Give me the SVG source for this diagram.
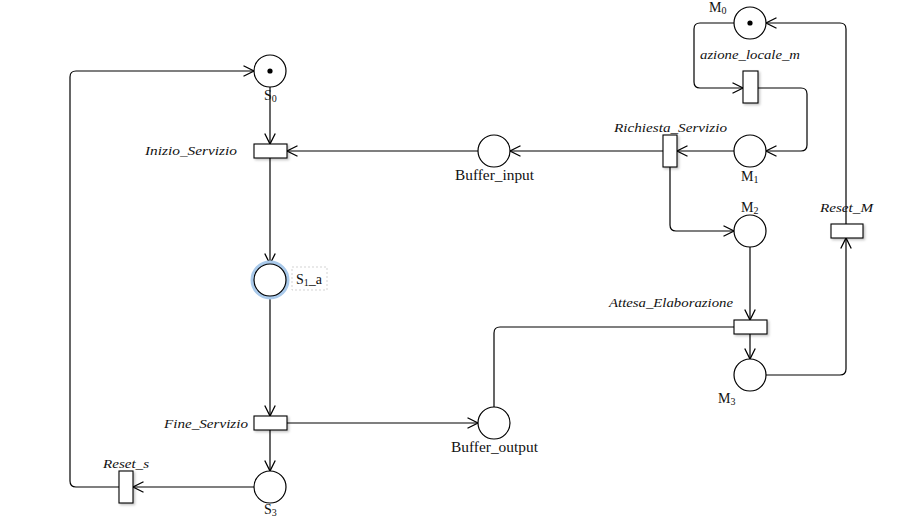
<svg xmlns="http://www.w3.org/2000/svg" width="905" height="519" viewBox="0 0 905 519">
<style>
.bg{fill:#ffffff}
.pl{fill:#ffffff;stroke:#000;stroke-width:1.2}
.tr{fill:#ffffff;stroke:#000;stroke-width:1.1;filter:url(#sh)}
.tok{fill:#000}
.arc{fill:none;stroke:#000;stroke-width:1.2;marker-end:url(#ah)}
.arcn{fill:none;stroke:#000;stroke-width:1.2}
.pt{font-family:"Liberation Serif","DejaVu Serif",serif;font-size:14px;fill:#111}
.tt{font-family:"Liberation Serif","DejaVu Serif",serif;font-size:12px;font-style:italic;fill:#111}
.sub{font-size:10px}
</style>
<defs>
<marker id="ah" markerUnits="userSpaceOnUse" markerWidth="14" markerHeight="12" refX="10" refY="5" orient="auto" viewBox="0 0 12 10">
<path d="M1,0.5 L10,5 L1,9.5" fill="none" stroke="#000" stroke-width="1.1"/>
</marker>
<filter id="sh" x="-30%" y="-30%" width="160%" height="160%">
<feDropShadow dx="1.5" dy="1.5" stdDeviation="1" flood-color="#000" flood-opacity="0.25"/>
</filter>
</defs>
<rect class="bg" x="0" y="0" width="905" height="519"/>

<g id="connectors">
<path class="arc" d="M734,23 H700 Q694,23 694,29 V82 Q694,88 700,88 H743"/>
<path class="arc" d="M758,88 H801 Q807,88 807,94 V145 Q807,151 801,151 H766"/>
<path class="arc" d="M734,151 H677"/>
<path class="arc" d="M663,151 H510"/>
<path class="arc" d="M478,151 H287"/>
<path class="arc" d="M670,167 V225 Q670,231 676,231 H734"/>
<path class="arc" d="M270,87 V144"/>
<path class="arc" d="M270,158 V264"/>
<path class="arc" d="M270,296 V416"/>
<path class="arc" d="M270,430 V471"/>
<path class="arc" d="M287,423 H478"/>
<path class="arc" d="M254,487 H133"/>
<path class="arc" d="M119,487 H76 Q70,487 70,481 V77 Q70,71 76,71 H254"/>
<path class="arcn" d="M494,407 V333 Q494,327 500,327 H734"/>
<path class="arc" d="M750,247 V320"/>
<path class="arc" d="M750,334 V359"/>
<path class="arc" d="M766,375 H840 Q846,375 846,369 V238"/>
<path class="arc" d="M846,224 V29 Q846,23 840,23 H766"/>
</g>

<g id="M0">
<circle class="pl" cx="750" cy="23" r="16"/>
<circle class="tok" cx="750" cy="23" r="2.6"/>
<text class="pt" x="709" y="12">M<tspan class="sub" dy="2">0</tspan></text>
</g>
<g id="M1">
<circle class="pl" cx="750" cy="151" r="16"/>
<text class="pt" x="741" y="181">M<tspan class="sub" dy="2">1</tspan></text>
</g>
<g id="M2">
<circle class="pl" cx="750" cy="231" r="16"/>
<text class="pt" x="741" y="212">M<tspan class="sub" dy="2">2</tspan></text>
</g>
<g id="M3">
<circle class="pl" cx="750" cy="375" r="16"/>
<text class="pt" x="718" y="403">M<tspan class="sub" dy="2">3</tspan></text>
</g>
<g id="Buffer_input">
<circle class="pl" cx="494" cy="151" r="16"/>
<text class="pt" x="455" y="180" textLength="79" lengthAdjust="spacingAndGlyphs">Buffer_input</text>
</g>
<g id="Buffer_output">
<circle class="pl" cx="494" cy="423" r="16"/>
<text class="pt" x="451" y="452" textLength="87" lengthAdjust="spacingAndGlyphs">Buffer_output</text>
</g>
<g id="S0">
<circle class="pl" cx="270" cy="71" r="16"/>
<circle class="tok" cx="270" cy="71" r="2.6"/>
<text class="pt" x="264" y="100">S<tspan class="sub" dy="2">0</tspan></text>
</g>
<g id="S1_a">
<circle cx="270" cy="280" r="17" fill="none" stroke="#a9c9ea" stroke-width="5"/>
<circle class="pl" cx="270" cy="280" r="16"/>
<rect x="292" y="267" width="35" height="23" fill="#ffffff" stroke="#c8c8c8" stroke-width="0.8" stroke-dasharray="2,2"/>
<text class="pt" x="296" y="284">S<tspan class="sub" dy="2">1</tspan><tspan dy="-2">_a</tspan></text>
</g>
<g id="S3">
<circle class="pl" cx="270" cy="487" r="16"/>
<text class="pt" x="264" y="514">S<tspan class="sub" dy="2">3</tspan></text>
</g>

<g id="azione_locale_m">
<rect class="tr" x="743" y="71" width="15" height="32"/>
<text class="tt" x="700" y="59" textLength="100" lengthAdjust="spacingAndGlyphs">azione_locale_m</text>
</g>
<g id="Richiesta_Servizio">
<rect class="tr" x="663" y="135" width="14" height="32"/>
<text class="tt" x="614" y="132" textLength="113" lengthAdjust="spacingAndGlyphs">Richiesta_Servizio</text>
</g>
<g id="Inizio_Servizio">
<rect class="tr" x="254" y="144" width="33" height="14"/>
<text class="tt" x="145" y="155" textLength="92" lengthAdjust="spacingAndGlyphs">Inizio_Servizio</text>
</g>
<g id="Fine_Servizio">
<rect class="tr" x="254" y="416" width="33" height="14"/>
<text class="tt" x="164" y="428" textLength="84" lengthAdjust="spacingAndGlyphs">Fine_Servizio</text>
</g>
<g id="Reset_s">
<rect class="tr" x="119" y="471" width="14" height="32"/>
<text class="tt" x="103" y="468" textLength="46" lengthAdjust="spacingAndGlyphs">Reset_s</text>
</g>
<g id="Attesa_Elaborazione">
<rect class="tr" x="734" y="320" width="33" height="14"/>
<text class="tt" x="609" y="307" textLength="124" lengthAdjust="spacingAndGlyphs">Attesa_Elaborazione</text>
</g>
<g id="Reset_M">
<rect class="tr" x="831" y="224" width="32" height="14"/>
<text class="tt" x="820" y="212" textLength="53" lengthAdjust="spacingAndGlyphs">Reset_M</text>
</g>
</svg>
